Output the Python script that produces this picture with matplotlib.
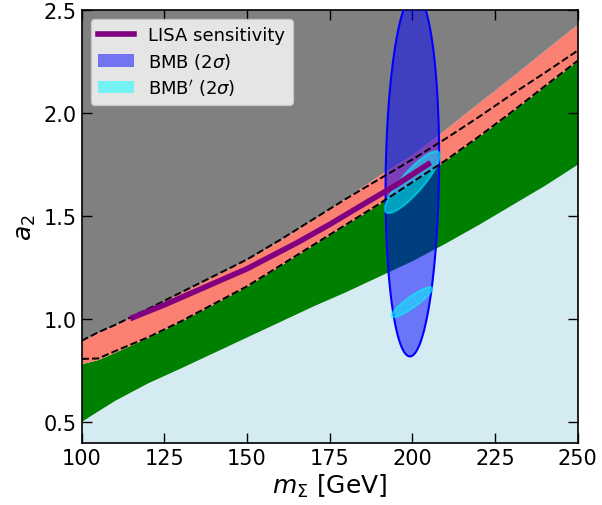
import numpy as np
import matplotlib
matplotlib.use("Agg")
import matplotlib.pyplot as plt
from matplotlib.lines import Line2D
from matplotlib.patches import Patch

# band boundaries
m_grid = [100, 105, 110, 120, 130, 140, 150, 160, 170, 180, 190, 200, 210, 220, 230, 240, 250]
lightblue_top = [0.506, 0.557, 0.607, 0.692, 0.765, 0.84, 0.915, 0.99, 1.065, 1.135, 1.21, 1.285, 1.37, 1.46, 1.555, 1.65, 1.753]
green_top = [0.785, 0.805, 0.84, 0.912, 0.99, 1.075, 1.16, 1.26, 1.36, 1.46, 1.56, 1.665, 1.77, 1.885, 2.005, 2.13, 2.254]
dash_low = [0.808, 0.81, 0.845, 0.912, 0.99, 1.075, 1.16, 1.26, 1.36, 1.46, 1.56, 1.665, 1.77, 1.885, 2.005, 2.13, 2.254]
dash_up = [0.896, 0.937, 0.972, 1.05, 1.13, 1.21, 1.29, 1.385, 1.485, 1.585, 1.68, 1.775, 1.875, 1.98, 2.09, 2.195, 2.303]
salmon_top = [0.896, 0.937, 0.972, 1.05, 1.13, 1.21, 1.29, 1.385, 1.485, 1.59, 1.70, 1.80, 1.922, 2.05, 2.175, 2.305, 2.432]

# LISA sensitivity curve
lisa_m = [114.6, 125, 135, 150, 165, 175, 187, 195, 205.5]
lisa_a2 = [1.003, 1.07, 1.14, 1.245, 1.37, 1.46, 1.575, 1.65, 1.76]

# benchmark ellipses: centre m, centre a2, half-width m, half-height a2, correlation
bmb = (200.0, 1.70, 8.1, 0.88, 0.09)
bmbp = [(200.0, 1.665, 8.3, 0.15, 0.86),
        (199.85, 1.083, 6.15, 0.073, 0.9)]


def ellipse_xy(cx, cy, rx, ry, rho, n=300):
    t = np.linspace(0, 2 * np.pi, n)
    phi = np.arccos(rho)
    return cx + rx * np.cos(t), cy + ry * np.cos(t - phi)


fig = plt.figure(figsize=(6.02, 5.06), dpi=100)
ax = fig.add_axes([0.1357, 0.1225, 0.8239, 0.8558])

ax.fill_between(m_grid, 0.3, lightblue_top, color='lightblue', alpha=0.5, lw=0)
ax.fill_between(m_grid, lightblue_top, green_top, color='green', lw=0)
ax.fill_between(m_grid, green_top, salmon_top, color='salmon', lw=0)
ax.fill_between(m_grid, salmon_top, 2.7, color='gray', lw=0)

ex, ey = ellipse_xy(*bmb)
ax.fill(ex, ey, facecolor=(0, 0, 1, 0.5), edgecolor='blue', lw=1.5, zorder=3)
for e in bmbp:
    ex, ey = ellipse_xy(*e)
    ax.fill(ex, ey, facecolor='cyan', edgecolor='cyan', lw=1.5, alpha=0.5, zorder=4)

ax.plot(m_grid, dash_up, 'k--', lw=1.4, zorder=5)
ax.plot(m_grid, dash_low, 'k--', lw=1.4, zorder=5)
ax.plot(lisa_m, lisa_a2, color='purple', lw=4, solid_capstyle='butt', zorder=6)

ax.set_xlim(100, 250)
ax.set_ylim(0.4, 2.5)
ax.set_xticks([100, 125, 150, 175, 200, 225, 250])
ax.set_yticks([0.5, 1.0, 1.5, 2.0, 2.5])
ax.tick_params(direction='in', top=True, right=True, length=7, width=1, labelsize=15)
for s in ax.spines.values():
    s.set_linewidth(1.2)

ax.set_xlabel(r'$m_{\Sigma}$ [GeV]', fontsize=18, labelpad=3)
ax.set_ylabel(r'$a_2$', fontsize=18, labelpad=4)

handles = [Line2D([0], [0], color='purple', lw=4),
           Patch(facecolor='blue', alpha=0.5),
           Patch(facecolor='cyan', alpha=0.5)]
labels = ['LISA sensitivity', r'BMB ($2\sigma$)', r"BMB$'$ ($2\sigma$)"]
ax.legend(handles, labels, loc='upper left', fontsize=13, labelspacing=0.35)

fig.savefig('out.png', dpi=100)
